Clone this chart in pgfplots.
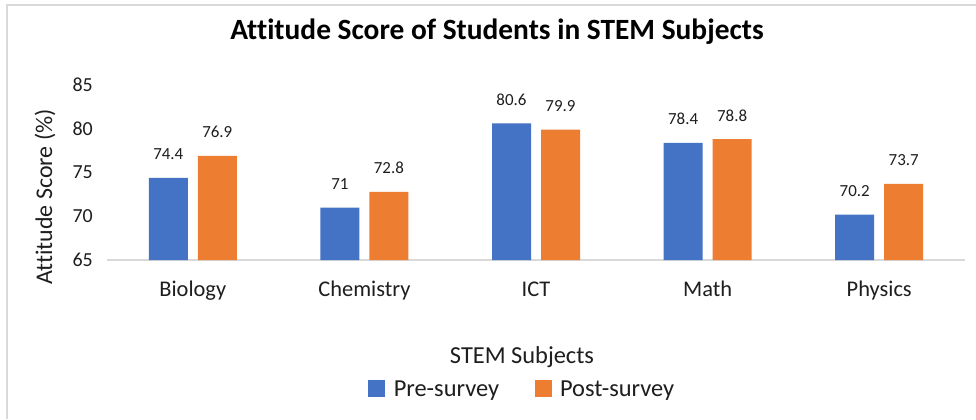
\documentclass[border=0pt]{standalone}
\usepackage{pgfplots}
\pgfplotsset{compat=1.18}
\usepackage{fontspec}
\setmainfont{Carlito}[Ligatures=NoCommon]
\definecolor{cblue}{HTML}{4472C4}
\definecolor{corange}{HTML}{ED7D31}
\definecolor{txt}{HTML}{1E1E1E}
\definecolor{axisgray}{HTML}{D9D9D9}
\begin{document}
\begin{tikzpicture}[x=1bp,y=1bp]
\useasboundingbox (0,0) rectangle (976,419);
\fill[white] (0,0) rectangle (976,419);
\draw[color=axisgray, line width=1.5bp] (7,0) -- (7,414) -- (976,414);
\begin{axis}[
  at={(107bp,159bp)}, anchor=south west,
  scale only axis, width=858bp, height=175bp,
  xmin=-0.5, xmax=4.5, ymin=65, ymax=85,
  ytick={65,70,75,80,85},
  xtick={0,1,2,3,4}, xticklabels={Biology,Chemistry,ICT,Math,Physics},
  axis x line*=bottom, axis y line*=left,
  y axis line style={draw=none},
  x axis line style={draw=axisgray, line width=1.3bp},
  major tick length=0pt,
  ybar, bar width=39bp,
  /pgf/number format/assume math mode=true,
  yticklabel style={font=\fontsize{20}{24}\selectfont, text=txt, anchor=east, inner sep=0pt, xshift=-14bp},
  xticklabel style={font=\fontsize{22.5}{26}\selectfont, text=txt, anchor=base, inner sep=0pt, yshift=-36bp},
  nodes near coords,
  every node near coord/.append style={font=\fontsize{17}{20}\selectfont, text=txt, anchor=base, inner sep=0pt, yshift=18bp},
  title={Attitude Score of Students in STEM Subjects},
  title style={at={(axis description cs:0.4545,1.2286)}, anchor=base, font=\bfseries\fontsize{29.5}{33}\selectfont, text=black, inner sep=0pt},
  xlabel={STEM Subjects},
  xlabel style={at={(axis description cs:0.4837,-0.5886)}, anchor=base, font=\fontsize{24.5}{28}\selectfont, text=txt, inner sep=0pt},
  ylabel={Attitude Score (\%)},
  ylabel style={at={(axis description cs:-0.0723,0.36)}, anchor=center, font=\fontsize{24}{28}\selectfont, text=txt, inner sep=0pt},
  legend columns=2,
  legend style={draw=none, fill=none, at={(axis description cs:0.4825,-0.737)}, anchor=center,
    font=\fontsize{24.5}{28}\selectfont, text=txt,
    nodes={inner sep=0pt},
    /tikz/every even column/.append style={column sep=36bp}},
]
\addplot[fill=cblue, draw=none, bar shift=-24.5bp,
  legend image code/.code={\fill[cblue] (0bp,-8.5bp) rectangle (17bp,8.5bp); \path (26bp,0bp);}]
  coordinates {(0,74.4) (1,71) (2,80.6) (3,78.4) (4,70.2)};
\addplot[fill=corange, draw=none, bar shift=24.5bp,
  legend image code/.code={\fill[corange] (0bp,-8.5bp) rectangle (17bp,8.5bp); \path (25bp,0bp);}]
  coordinates {(0,76.9) (1,72.8) (2,79.9) (3,78.8) (4,73.7)};
\legend{Pre-survey,Post-survey}
\end{axis}
\end{tikzpicture}
\end{document}
